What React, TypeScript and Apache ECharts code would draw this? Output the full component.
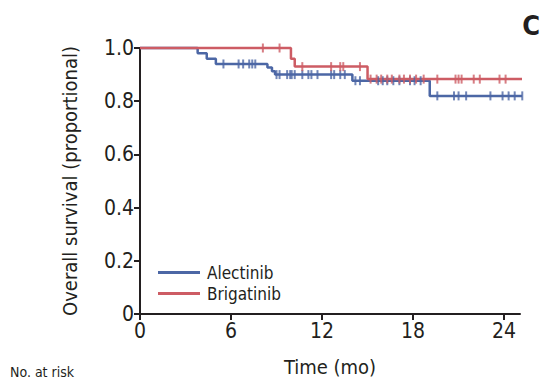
import React, { useEffect, useRef } from "react";
import * as echarts from "echarts";

const xTicks = [0, 6, 12, 18, 24];
const yTicks = [0, 0.2, 0.4, 0.6, 0.8, 1.0];

// Kaplan-Meier step points [time (mo), survival]
const alectinibSteps: [number, number][] = [
  [0, 1.0], [3.8, 0.98], [4.4, 0.96], [5.0, 0.94], [8.4, 0.927], [8.7, 0.913],
  [8.9, 0.9], [14.0, 0.877], [19.1, 0.82], [25.3, 0.82],
];
const brigatinibSteps: [number, number][] = [
  [0, 1.0], [9.95, 0.96], [10.2, 0.93], [15.0, 0.883], [25.3, 0.883],
];
// censor times
const alectinibCensor = [
  5.5, 6.5, 6.8, 7.2, 7.4, 7.6, 9.0, 9.2, 9.7, 9.9, 10.0, 10.2, 10.7, 11.1, 11.3,
  11.7, 12.6, 12.8, 13.2, 13.5, 14.2, 14.5, 15.7, 16.0, 16.3, 16.7, 17.1, 17.8,
  18.1, 18.5, 19.6, 20.7, 21.0, 21.5, 23.1, 23.9, 24.3, 24.7, 25.2,
];
const brigatinibCensor = [
  8.1, 9.2, 10.7, 12.6, 13.2, 13.4, 14.5, 15.2, 15.6, 15.9, 16.3, 16.6, 17.1,
  17.4, 17.8, 18.2, 18.7, 19.6, 20.8, 21.0, 21.2, 22.0, 22.4, 23.7, 24.1,
];

const names = ["Alectinib", "Brigatinib"];
const colors = ["#4c67a5", "#cd5c64"];

function survAt(steps: [number, number][], t: number) {
  let s = steps[0][1];
  for (const [x, y] of steps) if (x <= t) s = y;
  return s;
}

const FONT = "'Liberation Sans Narrow', 'DejaVu Sans Condensed', 'Roboto Condensed', sans-serif";
const INK = "#231f20";

export default function App() {
  const ref = useRef<HTMLDivElement>(null);
  useEffect(() => {
    const chart = echarts.init(ref.current!, null, { renderer: "svg" });
    const censorSeries = (steps: [number, number][], times: number[], color: string, name: string) => ({
      type: "scatter",
      name: name + " censored",
      data: times.map((t) => [t, survAt(steps, t)]),
      symbol: "rect",
      symbolSize: [2, 9],
      itemStyle: { color },
      clip: false,
      z: 3,
    });
    chart.setOption({
      animation: false,
      textStyle: { fontFamily: FONT },
      grid: { left: 140, right: 25, top: 48, bottom: 61, containLabel: false },
      legend: {
        data: names,
        orient: "vertical",
        left: 153,
        top: 259,
        itemWidth: 42,
        itemHeight: 3,
        itemGap: 4,
        icon: "rect",
        textStyle: { fontSize: 17, color: INK, fontFamily: FONT, padding: [0, 0, 0, 2] },
      },
      xAxis: {
        type: "value",
        min: 0,
        max: 25.05,
        interval: 6,
        name: "Time (mo)",
        nameLocation: "middle",
        nameGap: 43,
        nameTextStyle: { fontSize: 20, color: INK, fontFamily: FONT },
        axisLine: { lineStyle: { color: INK, width: 2 } },
        axisTick: { length: 6, lineStyle: { color: INK, width: 2 } },
        axisLabel: {
          fontSize: 21, color: INK, margin: 6, showMaxLabel: false,
          formatter: (v: number) => (xTicks.includes(v) ? String(v) : ""),
        },
        splitLine: { show: false },
      },
      yAxis: {
        type: "value",
        min: 0,
        max: 1,
        interval: 0.2,
        name: "Overall survival (proportional)",
        nameLocation: "middle",
        nameGap: 60,
        nameTextStyle: { fontSize: 20, color: INK, fontFamily: FONT },
        axisLine: { lineStyle: { color: INK, width: 2 } },
        axisTick: { length: 6, lineStyle: { color: INK, width: 2 } },
        axisLabel: {
          fontSize: 21, color: INK, margin: 6,
          formatter: (v: number) => {
            const t = yTicks.find((y) => Math.abs(y - v) < 1e-6);
            if (t === undefined) return "";
            return t === 0 ? "0" : t.toFixed(1);
          },
        },
        splitLine: { show: false },
      },
      series: [
        {
          type: "line", name: names[0], data: alectinibSteps, step: "end", clip: false,
          showSymbol: false, lineStyle: { color: colors[0], width: 2.5 }, itemStyle: { color: colors[0] }, z: 2,
        },
        {
          type: "line", name: names[1], data: brigatinibSteps, step: "end", clip: false,
          showSymbol: false, lineStyle: { color: colors[1], width: 2.5 }, itemStyle: { color: colors[1] }, z: 2,
        },
        censorSeries(alectinibSteps, alectinibCensor, colors[0], names[0]),
        censorSeries(brigatinibSteps, brigatinibCensor, colors[1], names[1]),
      ],
      graphic: [
        {
          type: "text", right: 5, top: 12,
          style: { text: "C", fontSize: 27, fontWeight: "bold", fill: INK, fontFamily: FONT },
        },
        {
          type: "text", left: 10, top: 365,
          style: { text: "No. at risk", fontSize: 14, fill: INK, fontFamily: FONT },
        },
      ],
    });
    return () => chart.dispose();
  }, []);
  return (
    <div
      ref={ref}
      style={{ position: "fixed", left: 0, top: 0, width: 545, height: 382, background: "#fff" }}
    />
  );
}
